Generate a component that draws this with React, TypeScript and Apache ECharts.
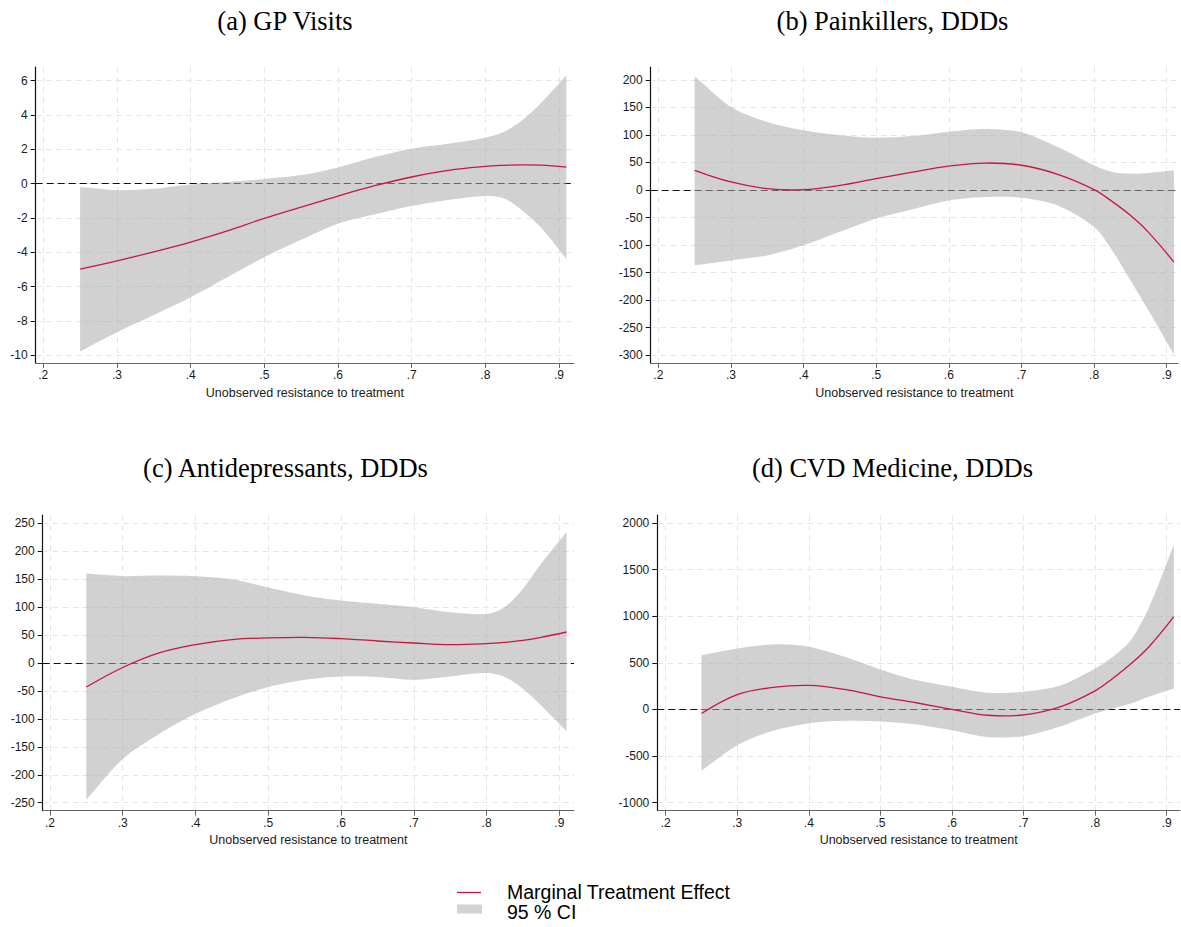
import React, { useEffect, useRef } from "react";
import * as echarts from "echarts";

// ---- data ----
const xVals = [0.25, 0.3, 0.35, 0.4, 0.45, 0.5, 0.55, 0.6, 0.65, 0.7, 0.75, 0.8, 0.825, 0.85, 0.875, 0.91];
const xTicks = [0.2, 0.3, 0.4, 0.5, 0.6, 0.7, 0.8, 0.9];

const gpMte = [-4.98, -4.5, -3.97, -3.4, -2.75, -2.02, -1.37, -0.72, -0.12, 0.39, 0.78, 1.01, 1.07, 1.1, 1.08, 0.97];
const gpLower = [-9.78, -8.66, -7.65, -6.62, -5.45, -4.28, -3.27, -2.33, -1.78, -1.3, -0.95, -0.72, -0.85, -1.56, -2.53, -4.38];
const gpUpper = [-0.2, -0.38, -0.3, -0.05, 0.1, 0.28, 0.5, 0.95, 1.55, 2.04, 2.33, 2.68, 3.01, 3.69, 4.67, 6.3];
const gpTicks = [-10, -8, -6, -4, -2, 0, 2, 4, 6];

const painMte = [35.8, 14.6, 2.4, 0.5, 8.5, 20.7, 32.5, 43.5, 49, 45, 28.5, 0.7, -21, -46, -77, -131];
const painLower = [-137, -128, -119, -100.5, -76, -52, -35, -19, -12.7, -14, -28, -67, -110, -164, -219, -299];
const painUpper = [206.7, 151, 123.6, 108.5, 99.5, 95, 98, 106, 111, 105, 78, 45, 32.7, 29.8, 31, 35.8];
const painTicks = [-300, -250, -200, -150, -100, -50, 0, 50, 100, 150, 200];

const depMte = [-43, -8, 18, 33, 42, 45, 46, 43.6, 39.4, 35.8, 33, 34.6, 37, 40.6, 46, 55.5];
const depLower = [-244.6, -171.7, -127, -91, -64, -43, -30, -24, -25, -30, -24, -18, -25, -46, -76, -122];
const depUpper = [160, 155.5, 156.7, 155.5, 150, 135, 121, 112, 106, 100, 91, 88, 100, 133, 178, 234.5];
const depTicks = [-250, -200, -150, -100, -50, 0, 50, 100, 150, 200, 250];

const cvdMte = [-43, 160, 236, 258, 215, 136, 72, 2, -62, -58, 25, 200, 335, 490, 670, 995];
const cvdLower = [-658, -383, -229, -150, -122, -128, -160, -222, -295, -286, -186, -43, 11, 64, 136, 225];
const cvdUpper = [583, 655, 698, 673, 565, 430, 315, 243, 179, 190, 254, 440, 565, 744, 1090, 1764];
const cvdTicks = [-1000, -500, 0, 500, 1000, 1500, 2000];

const titles = ["(a) GP Visits", "(b) Painkillers, DDDs", "(c) Antidepressants, DDDs", "(d) CVD Medicine, DDDs"];
const xAxisTitle = "Unobserved resistance to treatment";
const legendLine = "Marginal Treatment Effect";
const legendBand = "95 % CI";

const panels = [
  { mte: gpMte, lower: gpLower, upper: gpUpper, ticks: gpTicks },
  { mte: painMte, lower: painLower, upper: painUpper, ticks: painTicks },
  { mte: depMte, lower: depLower, upper: depUpper, ticks: depTicks },
  { mte: cvdMte, lower: cvdLower, upper: cvdUpper, ticks: cvdTicks },
];

// ---- layout ----
const layout = [
  { left: 35.7, top: 67, width: 538.3, height: 296, xMin: 0.1897, xMax: 0.9204, yMin: -10.45, yMax: 6.8, tx: 285, ty: 21 },
  { left: 650.7, top: 67, width: 527.3, height: 296, xMin: 0.1895, xMax: 0.9156, yMin: -314.5, yMax: 223.6, tx: 892.5, ty: 21 },
  { left: 42.7, top: 515, width: 531.3, height: 295.7, xMin: 0.19, xMax: 0.9202, yMin: -264.3, yMax: 264.9, tx: 285.5, ty: 467.5 },
  { left: 657.3, top: 515, width: 522.7, height: 295.7, xMin: 0.1883, xMax: 0.9186, yMin: -1085.8, yMax: 2085.8, tx: 892.5, ty: 467.5 },
];

const RED = "#c8163f";
const BAND = "rgba(172,172,172,0.55)";
const GRIDLINE = "#e6e6e6";
const SANS = "'Liberation Sans', Arial, sans-serif";
const SERIF = "'Liberation Serif', 'Times New Roman', serif";

const fmtX = (v: number) => v.toFixed(1).replace(/^0/, "");

export default function App() {
  const ref = useRef<HTMLDivElement>(null);

  useEffect(() => {
    if (!ref.current) return;
    const chart = echarts.init(ref.current, undefined, { renderer: "svg" });

    const grid: any[] = [];
    const xAxis: any[] = [];
    const yAxis: any[] = [];
    const series: any[] = [];
    const graphic: any[] = [];

    panels.forEach((p, i) => {
      const L = layout[i];
      grid.push({ left: L.left, top: L.top, width: L.width, height: L.height, containLabel: false });
      xAxis.push({
        type: "value",
        gridIndex: i,
        min: L.xMin,
        max: L.xMax,
        name: xAxisTitle,
        nameLocation: "middle",
        nameGap: 23,
        nameTextStyle: { fontFamily: SANS, fontSize: 12.5, color: "#1a1a1a" },
        axisLine: { show: true, onZero: false, lineStyle: { color: "#666", width: 1.2 } },
        axisTick: { show: true, length: 5, customValues: xTicks, lineStyle: { color: "#666" } },
        axisLabel: {
          customValues: xTicks,
          formatter: (v: number) => fmtX(v),
          fontFamily: SANS,
          fontSize: 12,
          color: "#1a1a1a",
          margin: 6,
        },
        splitLine: { show: true, lineStyle: { color: GRIDLINE, type: [6, 4], width: 1 } },
      });
      yAxis.push({
        type: "value",
        gridIndex: i,
        min: L.yMin,
        max: L.yMax,
        axisLine: { show: true, onZero: false, lineStyle: { color: "#111", width: 1.2 } },
        axisTick: { show: true, length: 5, customValues: p.ticks, lineStyle: { color: "#111" } },
        axisLabel: {
          customValues: p.ticks,
          formatter: (v: number) => String(v),
          fontFamily: SANS,
          fontSize: 12,
          color: "#1a1a1a",
          margin: 8,
        },
        splitLine: { show: true, lineStyle: { color: GRIDLINE, type: [6, 4], width: 1 } },
      });

      // confidence band drawn as one smoothed polygon through the axis scales
      series.push({
        type: "custom",
        xAxisIndex: i,
        yAxisIndex: i,
        data: xVals.map((x, j) => [x, p.lower[j], p.upper[j]]),
        encode: { x: 0, y: [1, 2] },
        z: 2,
        silent: true,
        renderItem: (params: any, api: any) => {
          if (params.dataIndex !== 0) return null;
          const up = xVals.map((x, j) => api.coord([x, p.upper[j]]));
          const lo = xVals.map((x, j) => api.coord([x, p.lower[j]]));
          const n = up.length;
          const pts: number[][] = [];
          pts.push(up[0]);
          for (let j = 0; j < n; j++) pts.push(up[j]);
          pts.push(up[n - 1]);
          pts.push(lo[n - 1]);
          for (let j = n - 1; j >= 0; j--) pts.push(lo[j]);
          pts.push(lo[0]);
          return {
            type: "polygon",
            shape: { points: pts, smooth: 0.3 },
            style: { fill: BAND, stroke: "none" },
          };
        },
      });
      // marginal treatment effect as a smoothed polyline through the axis scales
      series.push({
        type: "custom",
        xAxisIndex: i,
        yAxisIndex: i,
        data: xVals.map((x, j) => [x, p.mte[j]]),
        encode: { x: 0, y: 1 },
        z: 3,
        silent: true,
        renderItem: (params: any, api: any) => {
          if (params.dataIndex !== 0) return null;
          const pts = xVals.map((x, j) => api.coord([x, p.mte[j]]));
          return {
            type: "polyline",
            shape: { points: pts, smooth: 0.38 },
            style: { stroke: RED, lineWidth: 1.3, fill: "none" },
          };
        },
        markLine: {
          z: 1,
          silent: true,
          symbol: "none",
          label: { show: false },
          lineStyle: { color: "#111", type: [7, 4], width: 1.1 },
          data: [{ yAxis: 0 }],
        },
      });

      graphic.push({
        type: "text",
        x: L.tx,
        y: L.ty,
        style: {
          text: titles[i],
          fontFamily: SERIF,
          fontSize: 26.5,
          fill: "#000",
          textAlign: "center",
          textVerticalAlign: "middle",
        },
      });
    });

    // legend
    graphic.push({
      type: "line",
      shape: { x1: 457, y1: 892.5, x2: 481, y2: 892.5 },
      style: { stroke: RED, lineWidth: 1.3 },
    });
    graphic.push({
      type: "rect",
      shape: { x: 457, y: 904.5, width: 25, height: 9 },
      style: { fill: "#d3d3d3" },
    });
    graphic.push({
      type: "text",
      x: 507,
      y: 892,
      style: { text: legendLine, fontFamily: SANS, fontSize: 19.5, fill: "#000", textVerticalAlign: "middle" },
    });
    graphic.push({
      type: "text",
      x: 507,
      y: 911.8,
      style: { text: legendBand, fontFamily: SANS, fontSize: 19.5, fill: "#000", textVerticalAlign: "middle" },
    });

    chart.setOption({
      animation: false,
      backgroundColor: "#fff",
      grid,
      xAxis,
      yAxis,
      series,
      graphic,
    });

    return () => chart.dispose();
  }, []);

  return (
    <div
      ref={ref}
      style={{ position: "absolute", left: 0, top: 0, width: 1181, height: 927, background: "#fff" }}
    />
  );
}
